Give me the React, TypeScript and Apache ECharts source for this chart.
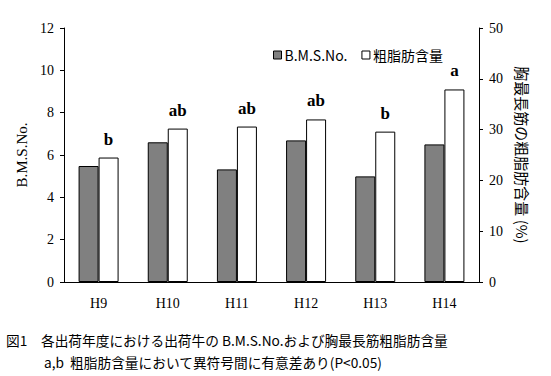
import React, { useEffect, useRef } from "react";
import * as echarts from "echarts";

const categories = ["H9", "H10", "H11", "H12", "H13", "H14"];
const bmsValues = [5.48, 6.6, 5.32, 6.69, 4.99, 6.5];
const fatValues = [24.5, 30.2, 30.6, 32.0, 29.6, 37.9];
const sigLetters = ["b", "ab", "ab", "ab", "b", "a"];
const caption1 = "図1　各出荷年度における出荷牛の B.M.S.No.および胸最長筋粗脂肪含量";
const caption2 = "a,b  粗脂肪含量において異符号間に有意差あり(P<0.05)";

const SERIF = "Liberation Serif";
const SANS = "Noto Sans CJK JP";

export default function App() {
  const ref = useRef<HTMLDivElement>(null);
  useEffect(() => {
    if (!ref.current) return;
    const chart = echarts.init(ref.current, null, { renderer: "svg" });
    chart.setOption({
      animation: false,
      backgroundColor: "#ffffff",
      grid: { left: 64, right: 72, top: 28, bottom: 94 },
      legend: {
        left: 268,
        top: 43,
        itemWidth: 8,
        itemHeight: 8,
        itemGap: 14,
        icon: "rect",
        textStyle: { fontFamily: SANS, fontSize: 14, color: "#000", padding: [0, 0, 0, -2] },
        data: [
          { name: "B.M.S.No.", itemStyle: { color: "#808080", borderColor: "#000", borderWidth: 1 } },
          { name: "粗脂肪含量", itemStyle: { color: "#ffffff", borderColor: "#000", borderWidth: 1 } },
        ],
      },
      xAxis: {
        type: "category",
        data: categories,
        axisLine: { lineStyle: { color: "#000", width: 1 } },
        axisTick: { inside: true, length: 5, lineStyle: { color: "#000" } },
        axisLabel: { fontFamily: SERIF, fontSize: 14, color: "#000", margin: 14 },
      },
      yAxis: [
        {
          type: "value",
          min: 0,
          max: 12,
          interval: 2,
          name: "B.M.S.No.",
          nameLocation: "middle",
          nameRotate: 90,
          nameGap: 34,
          nameTextStyle: { fontFamily: SERIF, fontSize: 15, color: "#000" },
          axisLine: { show: true, lineStyle: { color: "#000" } },
          axisTick: { show: true, length: 4, lineStyle: { color: "#000" } },
          axisLabel: { fontFamily: SERIF, fontSize: 14, color: "#000", margin: 10 },
          splitLine: { show: false },
        },
        {
          type: "value",
          min: 0,
          max: 50,
          interval: 10,
          position: "right",
          name: "胸最長筋の粗脂肪含量 (%)",
          nameLocation: "middle",
          nameRotate: -90,
          nameGap: 36,
          nameTextStyle: { fontFamily: SANS, fontSize: 15, color: "#000" },
          axisLine: { show: true, lineStyle: { color: "#000" } },
          axisTick: { show: true, length: 4, lineStyle: { color: "#000" } },
          axisLabel: { fontFamily: SERIF, fontSize: 14, color: "#000", margin: 10 },
          splitLine: { show: false },
        },
      ],
      series: [
        {
          name: "B.M.S.No.",
          type: "bar",
          yAxisIndex: 0,
          data: bmsValues,
          barWidth: 20,
          barGap: "0%",
          itemStyle: { color: "#808080", borderColor: "#000", borderWidth: 1 },
        },
        {
          name: "粗脂肪含量",
          type: "bar",
          yAxisIndex: 1,
          data: fatValues,
          barWidth: 20,
          barGap: "0%",
          itemStyle: { color: "#ffffff", borderColor: "#000", borderWidth: 1 },
          label: {
            show: true,
            position: "top",
            distance: 10,
            formatter: (p: any) => sigLetters[p.dataIndex],
            fontFamily: SERIF,
            fontWeight: "bold",
            fontSize: 17,
            color: "#000",
          },
        },
      ],
      graphic: [
        {
          type: "text",
          left: 6,
          top: 333,
          style: { text: caption1, font: `13.7px ${SANS}`, fill: "#000" },
        },
        {
          type: "text",
          left: 44,
          top: 355,
          style: { text: caption2, font: `13.7px ${SANS}`, fill: "#000" },
        },
      ],
    });
    return () => chart.dispose();
  }, []);
  return (
    <div
      ref={ref}
      style={{ position: "absolute", left: 0, top: 0, width: 551, height: 376 }}
    />
  );
}
